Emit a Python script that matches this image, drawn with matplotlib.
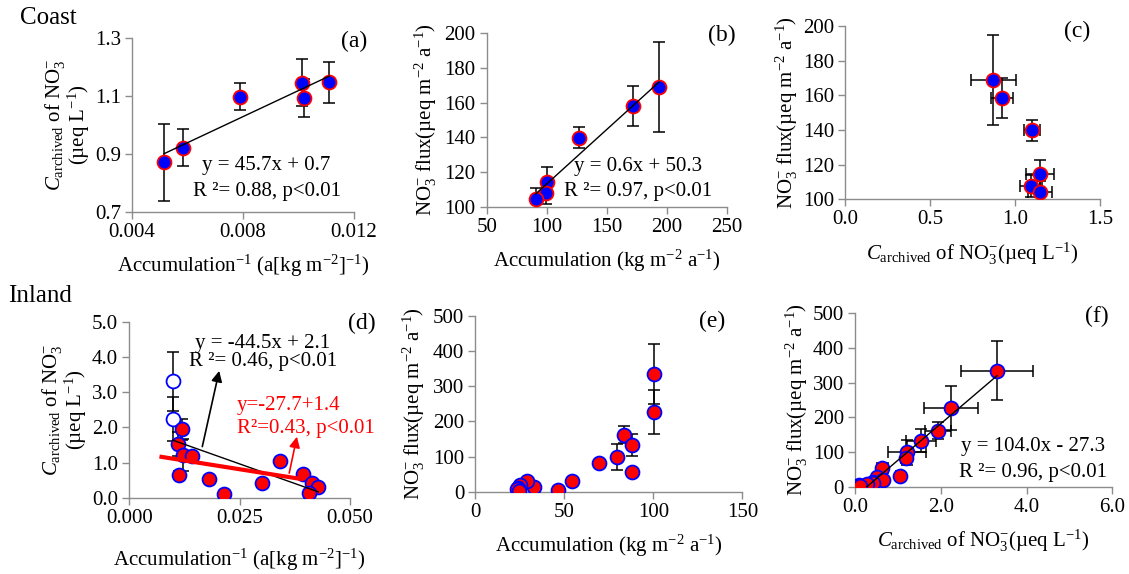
import numpy as np
import matplotlib
matplotlib.use('Agg')
import matplotlib.pyplot as plt

plt.rcParams.update({
    'font.family': ['Liberation Serif', 'DejaVu Serif'],
    'mathtext.fontset': 'custom',
    'mathtext.rm': 'Liberation Serif',
    'mathtext.it': 'Liberation Serif:italic',
    'font.size': 15,
})

# ---- coast data (panels a-c) ----
coast_inv_acc = [0.00516, 0.00583, 0.00789, 0.01011, 0.01021, 0.01111]
coast_acc = [193.6, 172.2, 126.9, 100.0, 99.2, 90.8]
coast_c = [0.871, 0.922, 1.098, 1.146, 1.093, 1.147]
coast_c_err = [0.132, 0.065, 0.047, 0.082, 0.066, 0.070]
coast_flux = [168.8, 158.3, 139.9, 114.4, 107.7, 104.3]
coast_flux_err = [26.0, 11.5, 6.0, 8.3, 6.3, 6.2]

# ---- inland data (panels d-f) ----
in_inv_acc = [0.0098, 0.0098, 0.0119, 0.0111, 0.0122, 0.0141, 0.0112, 0.0181,
              0.0215, 0.0300, 0.0341, 0.0394, 0.0413, 0.0428, 0.0407]
in_acc = [100.4, 100.4, 83.5, 88.2, 79.8, 69.7, 88.0, 54.3,
          46.3, 33.1, 29.2, 25.1, 24.0, 23.2, 24.5]
in_c = [3.31, 2.24, 1.94, 1.53, 1.21, 1.18, 0.64, 0.52,
        0.10, 0.41, 1.04, 0.66, 0.41, 0.29, 0.12]
in_c_err = [0.84, 0.62, 0.30, 0.35, 0.45, 0.10, 0.12, 0.05,
            0.03, 0.05, 0.08, 0.05, 0.04, 0.03, 0.03]
in_flux = [334, 226, 162, 133, 99, 82, 55, 29, 5, 13, 30, 18, 10, 7, 3]
in_flux_err = [85, 63, 25, 32, 37, 6, 6, 3, 1, 2, 3, 2, 1, 1, 1]
in_open = [True, True] + [False] * 13

# hand-drawn red line of panel (d)
red_line_x = [0.0073, 0.0390]
red_line_y = [1.16, 0.53]

W, H = 1129, 574
fig = plt.figure(figsize=(W / 100, H / 100), dpi=100)


def px_axes(l, t, r, b):
    return fig.add_axes([l / W, 1 - b / H, (r - l) / W, (b - t) / H])


def style(ax):
    for s in ['top', 'right']:
        ax.spines[s].set_visible(False)
    for s in ['left', 'bottom']:
        ax.spines[s].set_color('#8c8c8c')
        ax.spines[s].set_linewidth(1.0)
    ax.tick_params(direction='out', length=5, width=1.0, color='#8c8c8c',
                   labelsize=15, pad=3)


def coast_pts(ax, x, y):
    ax.plot(x, y, 'o', ms=10, mfc='#0000FF', mec='#FF0000', mew=1.3, zorder=3)


def inland_pts(ax, x, y):
    ax.plot(x, y, 'o', ms=10, mfc='#FF0000', mec='#0000FF', mew=1.3, zorder=3)


def trend(ax, x, y):
    k, b = np.polyfit(x, y, 1)
    xx = np.array([min(x), max(x)])
    ax.plot(xx, k * xx + b, color='black', lw=1.0, zorder=4)


eb = dict(fmt='none', ecolor='black', elinewidth=1.1, capsize=4, capthick=1.1, zorder=2)
ylab_c = '$\\mathit{C}_{\\mathrm{archived}}$ of NO$_3^{-}$\n(µeq L$^{-1}$)'
ylab_f = 'NO$_3^{-}$ flux(µeq m$^{-2}$ a$^{-1}$)'
xlab_c = '$\\mathit{C}_{\\mathrm{archived}}$ of NO$_3^{-}$(µeq L$^{-1}$)'

# (a)
ax = px_axes(132, 38, 354, 212)
style(ax)
ax.errorbar(coast_inv_acc, coast_c, yerr=coast_c_err, **eb)
coast_pts(ax, coast_inv_acc, coast_c)
trend(ax, coast_inv_acc, coast_c)
ax.set_xlim(0.004, 0.012)
ax.set_ylim(0.7, 1.3)
ax.set_xticks([0.004, 0.008, 0.012])
ax.set_xticklabels(['0.004', '0.008', '0.012'])
ax.set_yticks([0.7, 0.9, 1.1, 1.3])
ax.set_yticklabels(['0.7', '0.9', '1.1', '1.3'])
ax.text(0.00885, 0.86, 'y = 45.7x + 0.7', ha='center', va='center')
ax.text(0.00885, 0.77, 'R ²= 0.88, p<0.01', ha='center', va='center')
ax.set_xlabel('Accumulation$^{-1}$ (a[kg m$^{-2}$]$^{-1}$)', labelpad=8)
ax.set_ylabel(ylab_c, linespacing=0.95, labelpad=2)

# (b)
ax = px_axes(486.7, 33.3, 726.7, 206.7)
style(ax)
ax.errorbar(coast_acc, coast_flux, yerr=coast_flux_err, **eb)
coast_pts(ax, coast_acc, coast_flux)
trend(ax, coast_acc, coast_flux)
ax.set_xlim(50, 250)
ax.set_ylim(100, 200)
ax.set_xticks(np.arange(50, 251, 50))
ax.set_yticks(np.arange(100, 201, 20))
ax.text(176, 123, 'y = 0.6x + 50.3', ha='center', va='center')
ax.text(176, 108.7, 'R ²= 0.97, p<0.01', ha='center', va='center')
ax.set_xlabel('Accumulation (kg m$^{-2}$ a$^{-1}$)', labelpad=8)
ax.set_ylabel(ylab_f, labelpad=4)

# (c)
ax = px_axes(845.3, 26, 1100, 199.3)
style(ax)
ax.errorbar(coast_c, coast_flux, xerr=coast_c_err, yerr=coast_flux_err, **eb)
coast_pts(ax, coast_c, coast_flux)
ax.set_xlim(0, 1.5)
ax.set_ylim(100, 200)
ax.set_xticks([0, 0.5, 1.0, 1.5])
ax.set_xticklabels(['0.0', '0.5', '1.0', '1.5'])
ax.set_yticks(np.arange(100, 201, 20))
ax.set_xlabel(xlab_c, labelpad=8)
ax.set_ylabel(ylab_f, labelpad=2)

# (d)
ax = px_axes(129.3, 321.7, 350, 497.7)
style(ax)
ax.errorbar(in_inv_acc, in_c, yerr=in_c_err, **eb)
op = np.array(in_open)
xd = np.array(in_inv_acc)
yd = np.array(in_c)
ax.plot(xd[op], yd[op], 'o', ms=10, mfc='white', mec='#0000FF', mew=1.3, zorder=3)
inland_pts(ax, xd[~op], yd[~op])
trend(ax, in_inv_acc, in_c)
ax.plot(red_line_x, red_line_y, color='#FF0000', lw=3, zorder=4)
ax.annotate('', xy=(0.0205, 3.68), xytext=(0.0164, 1.375),
            arrowprops=dict(arrowstyle='-|>', color='black', lw=1.2,
                            mutation_scale=16), zorder=5)
ax.annotate('', xy=(0.0381, 1.81), xytext=(0.0361, 0.62),
            arrowprops=dict(arrowstyle='-|>', color='#FF0000', lw=1.2,
                            mutation_scale=16), zorder=5)
ax.text(0.0303, 4.39, 'y = -44.5x + 2.1', ha='center', va='center')
ax.text(0.0303, 3.86, 'R ²= 0.46, p<0.01', ha='center', va='center')
ax.text(0.0244, 2.63, 'y=-27.7+1.4', ha='left', va='center', color='#FF0000')
ax.text(0.0244, 1.97, 'R²=0.43, p<0.01', ha='left', va='center', color='#FF0000',
        clip_on=False)
ax.set_xlim(0, 0.05)
ax.set_ylim(0, 5)
ax.set_xticks([0, 0.025, 0.05])
ax.set_xticklabels(['0.000', '0.025', '0.050'])
ax.set_yticks(np.arange(0, 5.1, 1.0))
ax.set_yticklabels(['%.1f' % v for v in np.arange(0, 5.1, 1.0)])
ax.set_xlabel('Accumulation$^{-1}$ (a[kg m$^{-2}$]$^{-1}$)', labelpad=14)
ax.set_ylabel(ylab_c, linespacing=0.95, labelpad=2)

# (e)
ax = px_axes(475.3, 315.7, 742.3, 491.7)
style(ax)
ax.errorbar(in_acc, in_flux, yerr=in_flux_err, **eb)
inland_pts(ax, in_acc, in_flux)
ax.set_xlim(0, 150)
ax.set_ylim(0, 500)
ax.set_xticks([0, 50, 100, 150])
ax.set_yticks(np.arange(0, 501, 100))
ax.set_xlabel('Accumulation (kg m$^{-2}$ a$^{-1}$)', labelpad=8)
ax.set_ylabel(ylab_f, labelpad=4)

# (f)
ax = px_axes(855, 313.3, 1112.3, 486.7)
style(ax)
ax.errorbar(in_c, in_flux, xerr=in_c_err, yerr=in_flux_err, **eb)
inland_pts(ax, in_c, in_flux)
trend(ax, in_c, in_flux)
ax.set_xlim(0, 6)
ax.set_ylim(0, 500)
ax.set_xticks([0, 2, 4, 6])
ax.set_xticklabels(['0.0', '2.0', '4.0', '6.0'])
ax.set_yticks(np.arange(0, 501, 100))
ax.text(4.15, 115, 'y = 104.0x - 27.3', ha='center', va='center')
ax.text(4.15, 40, 'R ²= 0.96, p<0.01', ha='center', va='center')
ax.set_xlabel(xlab_c, labelpad=8)
ax.set_ylabel(ylab_f, labelpad=2)

# panel letters and group titles
for lab, px, py in [('(a)', 354, 41.7), ('(b)', 721.7, 35), ('(c)', 1076.7, 31.7),
                    ('(d)', 361.7, 323.3), ('(e)', 711.7, 321.7), ('(f)', 1096.7, 316.7)]:
    fig.text(px / W, 1 - py / H, lab, ha='center', va='center', fontsize=17)
fig.text(20 / W, 1 - 18 / H, 'Coast', ha='left', va='center', fontsize=18)
fig.text(8 / W, 1 - 296 / H, 'Inland', ha='left', va='center', fontsize=18)

fig.savefig('out.png', dpi=100, facecolor='white')
